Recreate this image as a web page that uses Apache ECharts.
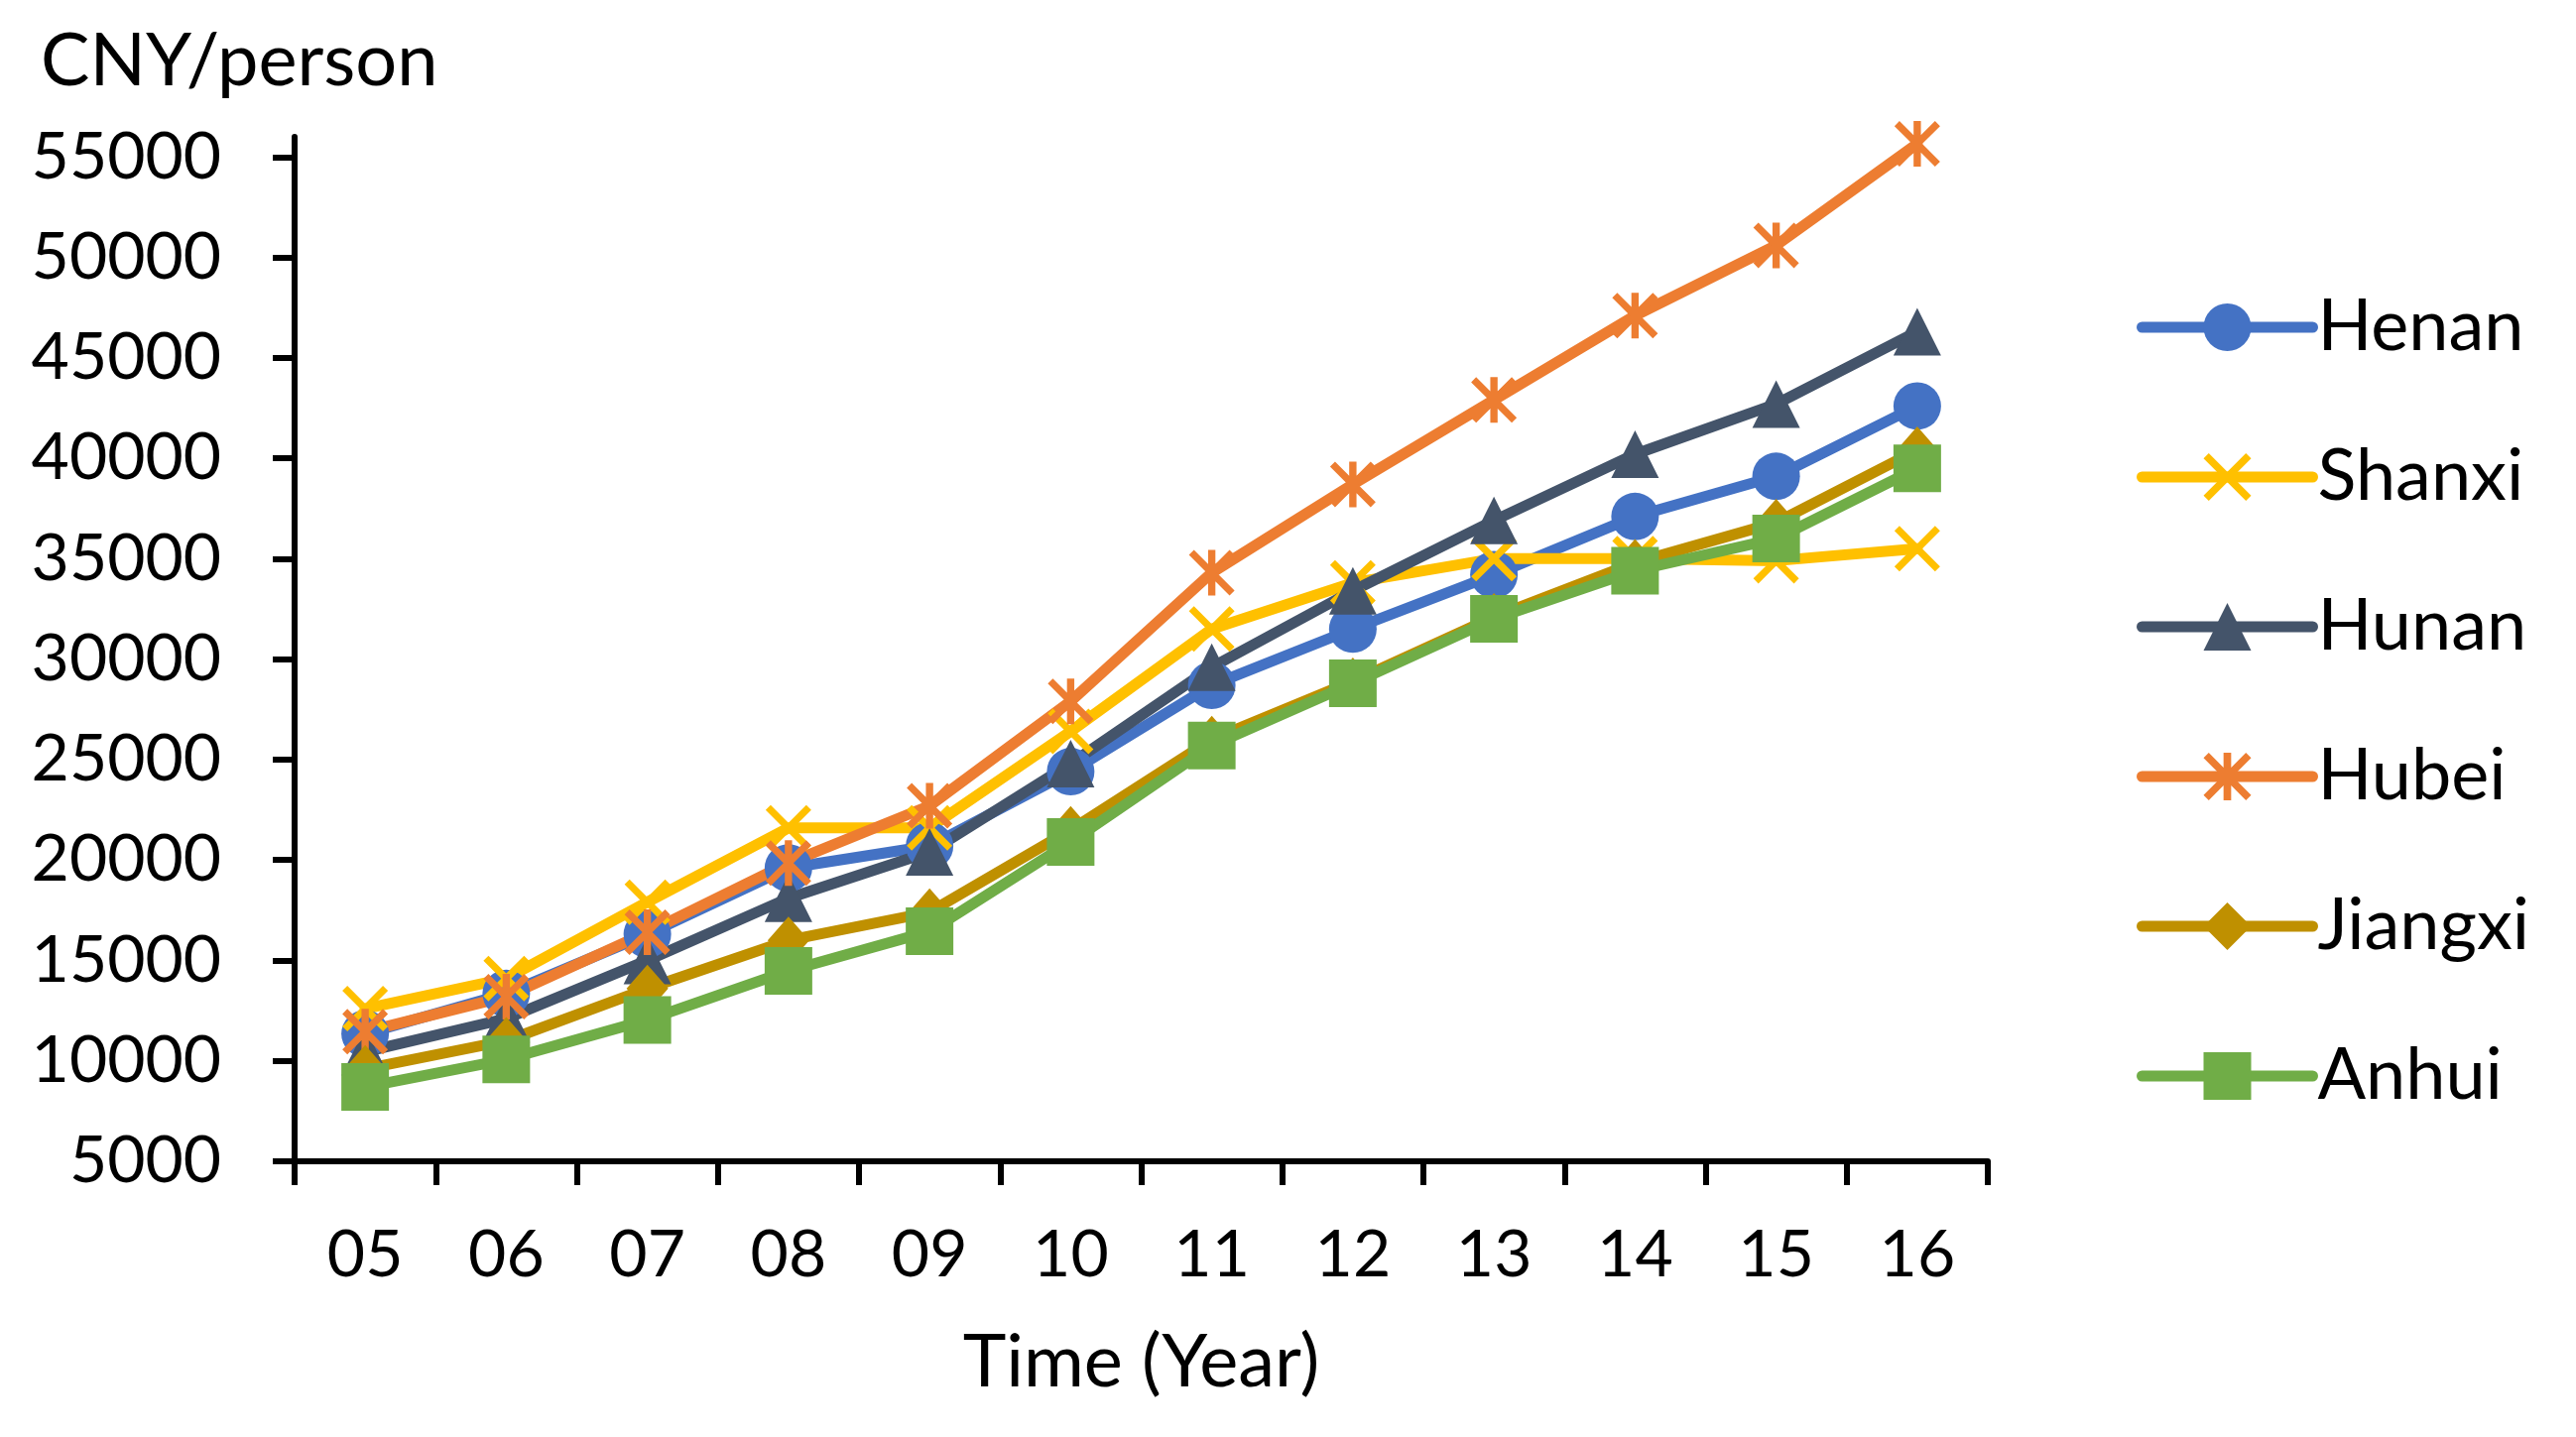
<!DOCTYPE html>
<html>
<head>
<meta charset="utf-8">
<script src="https://cdn.jsdelivr.net/npm/echarts@6/dist/echarts.min.js"></script>
<style>
html,body{margin:0;padding:0;background:#fff;}
#chart{width:2597px;height:1449px;}
</style>
</head>
<body>
<div id="chart"></div>
<script>
const years = ['05','06','07','08','09','10','11','12','13','14','15','16'];
const yTicks = [5000,10000,15000,20000,25000,30000,35000,40000,45000,50000,55000];
const henan   = [11350,13350,16300,19600,20700,24400,28700,31500,34200,37100,39100,42600];
const shanxi  = [12600,14100,17900,21600,21600,26400,31500,33800,35000,35000,34900,35500];
const hunan   = [10450,12100,15000,18100,20400,24800,29600,33400,36900,40200,42700,46300];
const hubei   = [11450,13200,16400,19850,22700,27900,34300,38700,42900,47100,50600,55650];
const jiangxi = [9600,11000,13600,16000,17400,21500,26000,28900,32100,34800,36800,40400];
const anhui   = [8700,10070,12040,14480,16450,20900,25700,28800,32000,34400,36000,39500];

const FONT = 'Lato';
const X_PATH = 'path://M0,11 L11,0 L50,39 L89,0 L100,11 L61,50 L100,89 L89,100 L50,61 L11,100 L0,89 L39,50 Z';
const STAR_PATH = 'path://M0,11 L11,0 L42,31 L42,0 L58,0 L58,31 L89,0 L100,11 L61,50 L100,89 L89,100 L58,69 L58,100 L42,100 L42,69 L11,100 L0,89 L39,50 Z';

function mk(name, data, color, symbol, size) {
  return {
    name: name, type: 'line', data: data,
    symbol: symbol, symbolSize: size,
    showAllSymbol: true,
    lineStyle: {color: color, width: 11, cap: 'round', join: 'round'},
    itemStyle: {color: color},
    emphasis: {disabled: true}
  };
}

const chart = echarts.init(document.getElementById('chart'));
chart.setOption({
  animation: false,
  backgroundColor: '#fff',
  title: {
    text: 'CNY/person', left: 36, top: 20,
    textStyle: {fontFamily: FONT, fontSize: 74, fontWeight: 'normal', color: '#000'}
  },
  legend: {
    orient: 'vertical', left: 2149, top: 289,
    itemWidth: 172, itemHeight: 60, itemGap: 79,
    lineStyle: {width: 11, cap: 'round'},
    textStyle: {fontFamily: FONT, fontSize: 72, color: '#000'},
    data: ['Henan','Shanxi','Hunan','Hubei','Jiangxi','Anhui']
  },
  grid: {left: 297, right: 593, top: 138, bottom: 278, containLabel: false},
  xAxis: {
    type: 'category', data: years, boundaryGap: true,
    name: 'Time (Year)', nameLocation: 'middle', nameGap: 166,
    nameTextStyle: {fontFamily: FONT, fontSize: 74, color: '#000'},
    axisLine: {lineStyle: {color: '#000', width: 6}},
    axisTick: {show: true, inside: false, length: 24, lineStyle: {color: '#000', width: 6}},
    axisLabel: {fontFamily: FONT, fontSize: 66, color: '#000', margin: 62},
    splitLine: {show: false}
  },
  yAxis: {
    type: 'value', min: 5000, max: 56000,
    axisLine: {show: true, lineStyle: {color: '#000', width: 6}},
    axisTick: {show: true, inside: false, length: 22, lineStyle: {color: '#000', width: 6}, customValues: yTicks},
    axisLabel: {fontFamily: FONT, fontSize: 66, color: '#000', margin: 74, customValues: yTicks,
      formatter: function (v) { return String(v); }},
    splitLine: {show: false}
  },
  series: [
    mk('Henan', henan, '#4472C4', 'circle', 48),
    mk('Shanxi', shanxi, '#FFC000', X_PATH, 46),
    mk('Hunan', hunan, '#44546A', 'triangle', 48),
    mk('Hubei', hubei, '#ED7D31', STAR_PATH, 46),
    mk('Jiangxi', jiangxi, '#BF9000', 'diamond', [42,48]),
    mk('Anhui', anhui, '#70AD47', 'rect', 48)
  ]
});
</script>
</body>
</html>
